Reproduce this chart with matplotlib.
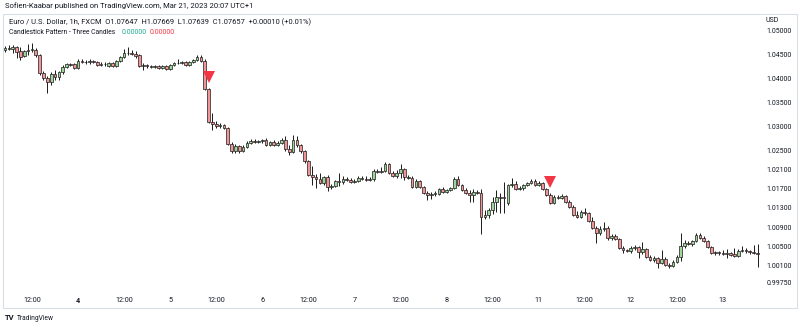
import numpy as np
import matplotlib.pyplot as plt
import matplotlib.transforms as mtransforms
from matplotlib.patches import Rectangle

plt.rcParams['font.family'] = ['Roboto', 'DejaVu Sans']

# EUR/USD hourly candles (FXCM), 1 Jul 06:00 -> 13 Jul 09:00
opens = [
    1.0458, 1.0463, 1.0460, 1.0465, 1.0456, 1.0446, 1.0456, 1.0458, 1.0458, 1.0448,
    1.0411, 1.0400, 1.0392, 1.0408, 1.0402, 1.0413, 1.0423, 1.0429, 1.0429, 1.0421,
    1.0435, 1.0433, 1.0433, 1.0435, 1.0433, 1.0427, 1.0429, 1.0425, 1.0431, 1.0425,
    1.0435, 1.0444, 1.0452, 1.0452, 1.0450, 1.0448, 1.0425, 1.0427, 1.0425, 1.0423,
    1.0425, 1.0421, 1.0425, 1.0419, 1.0427, 1.0431, 1.0431, 1.0433, 1.0427, 1.0433,
    1.0438, 1.0444, 1.0435, 1.0377, 1.0309, 1.0304, 1.0300, 1.0302, 1.0296, 1.0263,
    1.0248, 1.0259, 1.0248, 1.0257, 1.0265, 1.0269, 1.0267, 1.0269, 1.0271, 1.0261,
    1.0267, 1.0261, 1.0265, 1.0271, 1.0252, 1.0246, 1.0271, 1.0261, 1.0248, 1.0227,
    1.0198, 1.0194, 1.0190, 1.0182, 1.0194, 1.0173, 1.0175, 1.0186, 1.0184, 1.0190,
    1.0188, 1.0184, 1.0186, 1.0192, 1.0190, 1.0188, 1.0190, 1.0207, 1.0205, 1.0207,
    1.0221, 1.0202, 1.0196, 1.0202, 1.0211, 1.0194, 1.0192, 1.0173, 1.0186, 1.0173,
    1.0161, 1.0157, 1.0159, 1.0159, 1.0169, 1.0163, 1.0167, 1.0171, 1.0190, 1.0177,
    1.0167, 1.0161, 1.0157, 1.0163, 1.0161, 1.0111, 1.0115, 1.0125, 1.0142, 1.0152,
    1.0150, 1.0140, 1.0177, 1.0180, 1.0169, 1.0171, 1.0177, 1.0182, 1.0186, 1.0177,
    1.0182, 1.0169, 1.0157, 1.0140, 1.0152, 1.0150, 1.0155, 1.0142, 1.0132, 1.0115,
    1.0111, 1.0121, 1.0119, 1.0103, 1.0088, 1.0078, 1.0086, 1.0088, 1.0067, 1.0071,
    1.0065, 1.0046, 1.0042, 1.0040, 1.0046, 1.0048, 1.0038, 1.0044, 1.0028, 1.0021,
    1.0026, 1.0015, 1.0024, 1.0011, 1.0009, 1.0017, 1.0028, 1.0051, 1.0057, 1.0055,
    1.0061, 1.0073, 1.0067, 1.0061, 1.0048, 1.0036, 1.0038, 1.0036, 1.0034, 1.0036,
    1.0034, 1.0030, 1.0040, 1.0042, 1.0040, 1.0038, 1.0036,
]
highs = [
    1.0467, 1.0469, 1.0469, 1.0467, 1.0465, 1.0458, 1.0471, 1.0473, 1.0463, 1.0450,
    1.0415, 1.0404, 1.0413, 1.0417, 1.0415, 1.0427, 1.0431, 1.0431, 1.0431, 1.0440,
    1.0440, 1.0438, 1.0440, 1.0438, 1.0435, 1.0433, 1.0433, 1.0433, 1.0433, 1.0438,
    1.0446, 1.0460, 1.0465, 1.0458, 1.0456, 1.0450, 1.0431, 1.0429, 1.0427, 1.0427,
    1.0427, 1.0427, 1.0427, 1.0429, 1.0433, 1.0440, 1.0435, 1.0435, 1.0435, 1.0440,
    1.0448, 1.0448, 1.0440, 1.0379, 1.0327, 1.0311, 1.0306, 1.0304, 1.0298, 1.0267,
    1.0263, 1.0261, 1.0261, 1.0269, 1.0273, 1.0273, 1.0271, 1.0273, 1.0275, 1.0269,
    1.0271, 1.0269, 1.0275, 1.0279, 1.0261, 1.0281, 1.0279, 1.0263, 1.0250, 1.0230,
    1.0217, 1.0200, 1.0202, 1.0196, 1.0198, 1.0180, 1.0188, 1.0202, 1.0196, 1.0194,
    1.0192, 1.0190, 1.0196, 1.0196, 1.0196, 1.0194, 1.0211, 1.0211, 1.0215, 1.0225,
    1.0223, 1.0207, 1.0209, 1.0221, 1.0213, 1.0198, 1.0196, 1.0190, 1.0188, 1.0175,
    1.0165, 1.0163, 1.0165, 1.0171, 1.0173, 1.0169, 1.0173, 1.0194, 1.0196, 1.0180,
    1.0171, 1.0167, 1.0169, 1.0167, 1.0169, 1.0125, 1.0130, 1.0152, 1.0167, 1.0161,
    1.0184, 1.0180, 1.0192, 1.0186, 1.0175, 1.0180, 1.0184, 1.0190, 1.0190, 1.0186,
    1.0184, 1.0171, 1.0161, 1.0157, 1.0157, 1.0159, 1.0157, 1.0146, 1.0136, 1.0123,
    1.0125, 1.0130, 1.0121, 1.0111, 1.0092, 1.0092, 1.0100, 1.0092, 1.0076, 1.0076,
    1.0067, 1.0051, 1.0044, 1.0051, 1.0053, 1.0051, 1.0059, 1.0046, 1.0032, 1.0030,
    1.0028, 1.0042, 1.0028, 1.0015, 1.0021, 1.0032, 1.0078, 1.0063, 1.0061, 1.0063,
    1.0078, 1.0078, 1.0071, 1.0063, 1.0051, 1.0040, 1.0040, 1.0042, 1.0044, 1.0038,
    1.0046, 1.0044, 1.0051, 1.0046, 1.0042, 1.0053, 1.0055,
]
lows = [
    1.0454, 1.0458, 1.0452, 1.0442, 1.0438, 1.0444, 1.0448, 1.0454, 1.0444, 1.0406,
    1.0396, 1.0369, 1.0386, 1.0396, 1.0396, 1.0408, 1.0421, 1.0425, 1.0419, 1.0419,
    1.0431, 1.0429, 1.0429, 1.0431, 1.0425, 1.0425, 1.0425, 1.0423, 1.0423, 1.0423,
    1.0433, 1.0442, 1.0448, 1.0448, 1.0442, 1.0423, 1.0417, 1.0421, 1.0421, 1.0421,
    1.0419, 1.0419, 1.0417, 1.0417, 1.0425, 1.0429, 1.0429, 1.0425, 1.0425, 1.0431,
    1.0435, 1.0433, 1.0375, 1.0306, 1.0292, 1.0296, 1.0296, 1.0294, 1.0261, 1.0244,
    1.0244, 1.0244, 1.0246, 1.0254, 1.0263, 1.0265, 1.0265, 1.0265, 1.0259, 1.0259,
    1.0259, 1.0259, 1.0263, 1.0248, 1.0240, 1.0244, 1.0257, 1.0244, 1.0223, 1.0196,
    1.0177, 1.0171, 1.0180, 1.0177, 1.0165, 1.0169, 1.0173, 1.0175, 1.0180, 1.0186,
    1.0182, 1.0182, 1.0184, 1.0188, 1.0186, 1.0186, 1.0186, 1.0202, 1.0202, 1.0205,
    1.0200, 1.0194, 1.0192, 1.0192, 1.0188, 1.0190, 1.0171, 1.0171, 1.0171, 1.0159,
    1.0146, 1.0148, 1.0155, 1.0157, 1.0161, 1.0161, 1.0165, 1.0169, 1.0175, 1.0165,
    1.0159, 1.0142, 1.0142, 1.0159, 1.0076, 1.0107, 1.0109, 1.0117, 1.0121, 1.0119,
    1.0119, 1.0136, 1.0173, 1.0167, 1.0167, 1.0167, 1.0175, 1.0180, 1.0175, 1.0175,
    1.0167, 1.0155, 1.0138, 1.0138, 1.0148, 1.0148, 1.0140, 1.0130, 1.0113, 1.0109,
    1.0109, 1.0115, 1.0100, 1.0086, 1.0057, 1.0073, 1.0082, 1.0063, 1.0063, 1.0063,
    1.0044, 1.0036, 1.0038, 1.0036, 1.0042, 1.0026, 1.0034, 1.0026, 1.0019, 1.0017,
    1.0005, 1.0013, 1.0009, 1.0005, 1.0007, 1.0015, 1.0019, 1.0046, 1.0053, 1.0051,
    1.0059, 1.0065, 1.0059, 1.0046, 1.0034, 1.0032, 1.0032, 1.0032, 1.0026, 1.0030,
    1.0028, 1.0028, 1.0038, 1.0036, 1.0034, 1.0034, 1.0007,
]
closes = [
    1.0463, 1.0460, 1.0465, 1.0454, 1.0444, 1.0456, 1.0458, 1.0460, 1.0448, 1.0411,
    1.0400, 1.0392, 1.0408, 1.0402, 1.0413, 1.0423, 1.0429, 1.0427, 1.0421, 1.0435,
    1.0433, 1.0433, 1.0435, 1.0433, 1.0427, 1.0429, 1.0429, 1.0431, 1.0425, 1.0435,
    1.0444, 1.0452, 1.0452, 1.0450, 1.0446, 1.0425, 1.0427, 1.0425, 1.0423, 1.0425,
    1.0421, 1.0425, 1.0419, 1.0427, 1.0431, 1.0431, 1.0433, 1.0427, 1.0433, 1.0438,
    1.0444, 1.0435, 1.0377, 1.0309, 1.0304, 1.0300, 1.0302, 1.0296, 1.0263, 1.0248,
    1.0259, 1.0248, 1.0257, 1.0265, 1.0269, 1.0267, 1.0269, 1.0271, 1.0261, 1.0267,
    1.0261, 1.0265, 1.0271, 1.0252, 1.0246, 1.0271, 1.0261, 1.0248, 1.0227, 1.0198,
    1.0194, 1.0190, 1.0182, 1.0194, 1.0173, 1.0175, 1.0186, 1.0184, 1.0190, 1.0188,
    1.0184, 1.0186, 1.0192, 1.0190, 1.0188, 1.0190, 1.0207, 1.0205, 1.0207, 1.0221,
    1.0202, 1.0196, 1.0202, 1.0211, 1.0194, 1.0192, 1.0173, 1.0186, 1.0173, 1.0161,
    1.0157, 1.0159, 1.0161, 1.0169, 1.0163, 1.0167, 1.0171, 1.0190, 1.0177, 1.0167,
    1.0161, 1.0157, 1.0163, 1.0161, 1.0111, 1.0115, 1.0125, 1.0142, 1.0152, 1.0150,
    1.0152, 1.0177, 1.0180, 1.0169, 1.0171, 1.0177, 1.0182, 1.0186, 1.0177, 1.0182,
    1.0169, 1.0157, 1.0140, 1.0152, 1.0150, 1.0155, 1.0142, 1.0132, 1.0115, 1.0111,
    1.0121, 1.0119, 1.0103, 1.0088, 1.0078, 1.0086, 1.0088, 1.0067, 1.0071, 1.0065,
    1.0046, 1.0042, 1.0040, 1.0046, 1.0048, 1.0038, 1.0044, 1.0028, 1.0021, 1.0026,
    1.0015, 1.0024, 1.0011, 1.0009, 1.0017, 1.0028, 1.0051, 1.0057, 1.0055, 1.0061,
    1.0073, 1.0067, 1.0061, 1.0048, 1.0036, 1.0038, 1.0036, 1.0034, 1.0036, 1.0032,
    1.0030, 1.0040, 1.0042, 1.0040, 1.0038, 1.0036, 1.0034,
]

# bars where the three-candles pattern fired (bearish)
signal_bars = [53, 142]

time_tick_bars = [7, 19, 31, 43, 55, 67, 79, 91, 103, 115, 127, 139, 151, 163, 175, 187]
time_tick_labels = ['12:00', '4', '12:00', '5', '12:00', '6', '12:00', '7',
                    '12:00', '8', '12:00', '11', '12:00', '12', '12:00', '13']
price_ticks = [1.05, 1.045, 1.04, 1.035, 1.03, 1.025, 1.021, 1.017,
               1.013, 1.009, 1.005, 1.001, 0.9975]

TEXT = '#131722'
UP_FILL = '#9fd49b'
DOWN_FILL = '#f09696'
EDGE = '#1a1a1a'
SIGNAL = '#f23645'

W, H = 800, 328
fig = plt.figure(figsize=(W / 100, H / 100), dpi=100)


def fx(px):
    return px / W


def fy(py):
    return 1 - py / H


ax = fig.add_axes([fx(3), fy(290), fx(757), 276 / H])

o = np.array(opens)
h = np.array(highs)
l = np.array(lows)
c = np.array(closes)
idx = np.arange(len(c))
up = c >= o

ax.vlines(idx, l, h, color=EDGE, lw=0.7, zorder=2)
ax.bar(idx[up], (c - o)[up], bottom=o[up], width=0.7,
       color=UP_FILL, edgecolor=EDGE, linewidth=0.5, zorder=3)
ax.bar(idx[~up], (c - o)[~up], bottom=o[~up], width=0.7,
       color=DOWN_FILL, edgecolor=EDGE, linewidth=0.5, zorder=3)

# signal triangles sit a fixed distance above the bar high
above = mtransforms.offset_copy(ax.transData, fig=fig, y=8, units='points')
ax.plot(signal_bars, h[signal_bars], 'v', color=SIGNAL, markersize=8,
        markeredgewidth=0, transform=above, zorder=4)

ax.set_xlim(-0.55, 196.65)
ax.set_ylim(0.9959, 1.05333)
for side in ax.spines.values():
    side.set_visible(False)

ax.set_xticks(time_tick_bars)
ax.set_xticklabels(time_tick_labels)
for lab in ax.get_xticklabels():
    lab.set_fontweight('bold' if lab.get_text() == '4' else 'normal')
ax.tick_params(axis='x', length=0, pad=5, labelsize=5.2, labelcolor=TEXT)

ax.yaxis.tick_right()
ax.set_yticks(price_ticks)
ax.set_yticklabels([f'{p:.5f}' for p in price_ticks])
ax.tick_params(axis='y', length=0, pad=4.5, labelsize=5, labelcolor=TEXT)

# chart frame
fig.patches.append(Rectangle((fx(3), fy(308)), fx(794), (308 - 14) / H,
                             transform=fig.transFigure, fill=False,
                             edgecolor='#dadde3', lw=0.8, zorder=1))
# price-scale header hides the top of the first label
fig.patches.append(Rectangle((fx(761), fy(28)), fx(34), 13 / H,
                             transform=fig.transFigure, facecolor='white',
                             edgecolor='none', zorder=5))
fig.text(fx(765), fy(20), 'USD', fontsize=5, color=TEXT, va='center', zorder=6)

fig.text(fx(5), fy(6), 'Sofien-Kaabar published on TradingView.com, Mar 21, 2023 20:07 UTC+1',
         fontsize=5.5, color=TEXT, va='center')
fig.text(fx(9), fy(22),
         'Euro / U.S. Dollar, 1h, FXCM  O1.07647  H1.07669  L1.07639  C1.07657  +0.00010 (+0.01%)',
         fontsize=5.4, color=TEXT, va='center')
fig.text(fx(9), fy(32), 'Candlestick Pattern - Three Candles',
         fontsize=4.85, color=TEXT, va='center')
fig.text(fx(122), fy(32), '0.00000', fontsize=5, color='#22ab94', va='center')
fig.text(fx(150), fy(32), '0.00000', fontsize=5, color=SIGNAL, va='center')

fig.text(fx(5), fy(318), 'TV', fontsize=5.5, fontweight='bold', color=TEXT, va='center')
fig.text(fx(17), fy(318), 'TradingView', fontsize=4.8, color=TEXT, va='center')

fig.savefig('out.png', dpi=100, facecolor='white')
